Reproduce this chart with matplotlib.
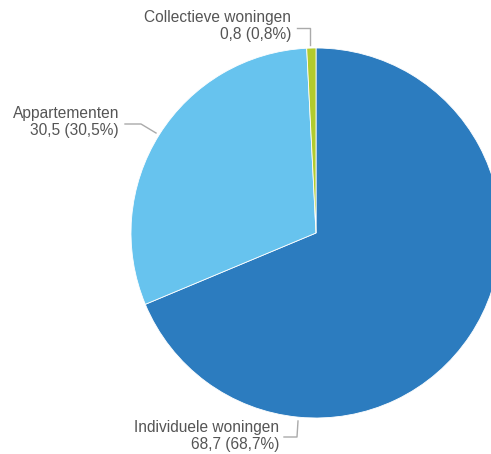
import matplotlib.pyplot as plt

plt.rcParams['font.family'] = ['Liberation Sans', 'DejaVu Sans']

# data
categories = ['Individuele woningen', 'Appartementen', 'Collectieve woningen']
values = [68.7, 30.5, 0.8]
value_labels = ['68,7 (68,7%)', '30,5 (30,5%)', '0,8 (0,8%)']
colors = ['#2C7CBF', '#67C3EE', '#B2CB2E']

W, H = 491, 454
fig = plt.figure(figsize=(W / 100, H / 100), dpi=100)
ax = fig.add_axes([0, 0, 1, 1])

cx, cy, r = 316, H - 233, 185
ax.pie(values, colors=colors, startangle=90, counterclock=False,
       center=(cx, cy), radius=r, frame=True,
       wedgeprops=dict(edgecolor='white', linewidth=0.6))
ax.set_xlim(0, W)
ax.set_ylim(0, H)
ax.set_aspect('equal')
ax.axis('off')

txt = dict(color='#555555', fontsize=11.2, ha='right', va='center', linespacing=1.2)
lc = dict(color='#aaaaaa', linewidth=1.0)

def label(i, x, y):
    ax.text(x, H - y, categories[i] + '\n' + value_labels[i], **txt)

# Collectieve woningen
label(2, 291, 26)
ax.plot([297, 310, 310], [H - 28, H - 28, H - 45], **lc)

# Appartementen
label(1, 119, 122)
ax.plot([125, 141, 156], [H - 124, H - 124, H - 133], **lc)

# Individuele woningen
label(0, 279, 436)
ax.plot([284, 297, 298], [H - 437, H - 437, H - 421], **lc)

fig.savefig('out.png', dpi=100)
